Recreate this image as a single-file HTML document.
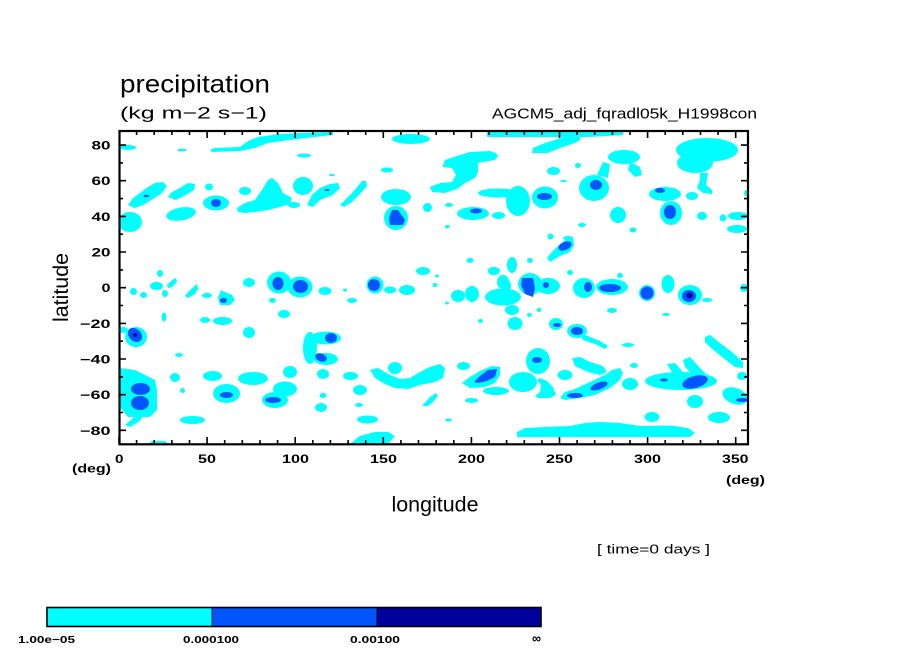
<!DOCTYPE html>
<html><head><meta charset="utf-8"><style>
html,body{margin:0;padding:0;background:#fff;}
svg{display:block;}
text{font-family:"Liberation Sans",sans-serif;fill:#000;}
.tl{font-weight:bold;font-size:12px;}
</style></head><body>
<svg width="904" height="654" viewBox="0 0 904 654" xmlns="http://www.w3.org/2000/svg">
<rect width="904" height="654" fill="#fff"/>
<defs><clipPath id="pc"><rect x="119" y="131" width="629" height="313"/></clipPath></defs>
<g clip-path="url(#pc)">
<g fill="#00ffff">
<polygon points="210,150 215,148 240,147 248,141 258,137 280,134 300,133 333,132 333,135 315,137 290,140 268,143 255,148 240,151 212,152"/>
<ellipse cx="411" cy="139" rx="19" ry="5"/>
<polygon points="487,131 623,131 623,135 590,137 487,137"/>
<polygon points="532,153 533,148 545,143 555,140 563,137 580,134 580,140 575,143 560,148 548,153"/>
<ellipse cx="488" cy="155" rx="9" ry="3.5"/>
<ellipse cx="128" cy="147.5" rx="8" ry="2.5"/>
<ellipse cx="182" cy="150" rx="5" ry="1.2"/>
<ellipse cx="304" cy="155.5" rx="7" ry="2"/>
<ellipse cx="707" cy="150" rx="31" ry="12"/>
<ellipse cx="695" cy="163" rx="18" ry="10"/>
<polygon points="700,173 708,173 706,185 712,190 712,194 703,193 697,188 700,180"/>
<ellipse cx="692" cy="196" rx="6" ry="4"/>
<ellipse cx="624" cy="157" rx="16" ry="7"/>
<polygon points="630,162 640,167 642,175 635,177 628,170"/>
<ellipse cx="553.5" cy="171" rx="6.5" ry="4"/>
<ellipse cx="563.5" cy="181" rx="3.5" ry="1"/>
<ellipse cx="578" cy="165.5" rx="3" ry="2.5"/>
<ellipse cx="594" cy="188" rx="15" ry="13"/>
<polygon points="597,175 603,162 610,164 608,178"/>
<ellipse cx="498" cy="193" rx="20" ry="4.5"/>
<ellipse cx="518" cy="201" rx="12" ry="15"/>
<ellipse cx="545" cy="197.5" rx="13" ry="11"/>
<ellipse cx="473" cy="213.5" rx="16" ry="6.5"/>
<ellipse cx="498.5" cy="215.5" rx="6.5" ry="3.5"/>
<ellipse cx="618" cy="215" rx="8" ry="8"/>
<ellipse cx="582" cy="225" rx="4" ry="2"/>
<ellipse cx="633" cy="230" rx="3.5" ry="2.5"/>
<ellipse cx="550.5" cy="236.5" rx="3" ry="3"/>
<ellipse cx="568" cy="238" rx="5" ry="2"/>
<ellipse cx="447" cy="227" rx="2" ry="1.5"/>
<ellipse cx="665" cy="194" rx="16" ry="7"/>
<ellipse cx="671" cy="213" rx="11" ry="12"/>
<ellipse cx="702" cy="216" rx="5" ry="4"/>
<ellipse cx="723" cy="218" rx="3.5" ry="3.5"/>
<ellipse cx="738" cy="216" rx="10" ry="4"/>
<ellipse cx="737" cy="229" rx="10" ry="4"/>
<ellipse cx="746" cy="193" rx="2" ry="3"/>
<polygon points="547,258 552,252 560,244 567,239 573,237 574,245 570,252 560,256 550,262"/>
<ellipse cx="530" cy="260.5" rx="3" ry="2.5"/>
<ellipse cx="512" cy="265" rx="5" ry="8"/>
<ellipse cx="494" cy="271" rx="6" ry="4"/>
<ellipse cx="503" cy="282" rx="6" ry="7"/>
<ellipse cx="530" cy="284" rx="12" ry="11"/>
<ellipse cx="548" cy="286" rx="12" ry="8"/>
<ellipse cx="570" cy="272.5" rx="3" ry="2.5"/>
<ellipse cx="584" cy="288" rx="11" ry="10"/>
<ellipse cx="612" cy="287" rx="16" ry="8"/>
<ellipse cx="620" cy="275.5" rx="3" ry="2.5"/>
<circle cx="647" cy="293" r="8"/>
<ellipse cx="668" cy="284" rx="6.5" ry="9"/>
<ellipse cx="690" cy="295" rx="12" ry="10"/>
<ellipse cx="707" cy="300" rx="5" ry="2"/>
<ellipse cx="744" cy="288" rx="4" ry="4"/>
<ellipse cx="612" cy="310.5" rx="5" ry="2.5"/>
<ellipse cx="666" cy="314.5" rx="4" ry="1.5"/>
<ellipse cx="539" cy="310" rx="2.5" ry="2"/>
<ellipse cx="556" cy="324" rx="7" ry="6"/>
<ellipse cx="577" cy="331" rx="10" ry="7"/>
<polygon points="580,333 590,337 600,341 608,346 605,349 595,344 583,340"/>
<ellipse cx="628" cy="345" rx="6" ry="2"/>
<polygon points="705,337 710,335 720,343 732,352 743,362 743,368 735,367 722,357 710,347 705,342"/>
<ellipse cx="538" cy="361" rx="12" ry="13"/>
<polygon points="572,358 580,357 590,362 603,366 607,372 600,375 588,372 575,366"/>
<ellipse cx="634" cy="365.5" rx="4" ry="2.5"/>
<ellipse cx="565" cy="375" rx="7.5" ry="5"/>
<polygon points="540,378 547,381 553,387 556,395 550,398 538,398 535,396 540,392 541,385 537,380"/>
<polygon points="560,398 565,392 575,389 590,382 605,375 612,370 620,368 623,373 620,380 610,388 595,395 580,398 565,400"/>
<ellipse cx="630" cy="384" rx="8" ry="6"/>
<ellipse cx="681" cy="381" rx="36" ry="9"/>
<polygon points="683,360 690,357 700,368 707,375 700,378 690,372 685,367"/>
<polygon points="667,364 675,363 683,372 683,377 675,377"/>
<ellipse cx="742" cy="376" rx="5" ry="4"/>
<ellipse cx="735" cy="396" rx="13" ry="8" transform="rotate(20 735 396)"/>
<ellipse cx="695" cy="401.5" rx="8" ry="6.5"/>
<ellipse cx="652" cy="417" rx="7.5" ry="5"/>
<ellipse cx="719" cy="417.5" rx="11" ry="5.5"/>
<polygon points="517,432 525,428 545,427 570,426 585,423 600,422 620,423 640,426 670,425.5 688,428 695,433 690,437 640,437 600,437 560,437 530,437 517,437"/>
<ellipse cx="375" cy="285" rx="8.5" ry="8.5"/>
<ellipse cx="325" cy="291" rx="6.5" ry="4"/>
<ellipse cx="390" cy="290" rx="6" ry="3.5"/>
<ellipse cx="407" cy="290" rx="8" ry="5"/>
<ellipse cx="435" cy="285" rx="2.5" ry="2"/>
<ellipse cx="352" cy="300.5" rx="5" ry="2.5"/>
<ellipse cx="345" cy="290" rx="2" ry="1.5"/>
<ellipse cx="458" cy="296" rx="7" ry="6"/>
<ellipse cx="472" cy="294" rx="7" ry="8"/>
<ellipse cx="503" cy="297" rx="18" ry="8.5"/>
<ellipse cx="506" cy="286" rx="5" ry="7"/>
<ellipse cx="423" cy="271" rx="7" ry="4"/>
<ellipse cx="470" cy="260.5" rx="3.5" ry="2.5"/>
<ellipse cx="493" cy="271" rx="5" ry="4"/>
<ellipse cx="437" cy="276" rx="2" ry="1.5"/>
<ellipse cx="447" cy="303" rx="2" ry="1.5"/>
<ellipse cx="512" cy="310" rx="7" ry="5"/>
<ellipse cx="515" cy="323.5" rx="7.5" ry="6.5"/>
<ellipse cx="480.5" cy="321" rx="2.5" ry="2"/>
<ellipse cx="529.5" cy="315" rx="2.5" ry="2"/>
<ellipse cx="326" cy="338" rx="15" ry="6.5"/>
<ellipse cx="310" cy="348" rx="7" ry="16"/>
<ellipse cx="326" cy="359" rx="12" ry="6"/>
<ellipse cx="323" cy="374" rx="6" ry="5"/>
<ellipse cx="350.5" cy="376" rx="7.5" ry="4"/>
<ellipse cx="395" cy="368" rx="7" ry="6"/>
<polygon points="370,370 378,368 390,375 400,379 410,378 420,372 430,367 440,364 445,368 443,378 435,382 420,385 408,389 395,388 385,384 375,378"/>
<ellipse cx="463.5" cy="366" rx="6.5" ry="4"/>
<polygon points="462,383 470,377 480,371 492,366 500,367 500,375 495,383 485,387 470,388"/>
<ellipse cx="496" cy="391" rx="13" ry="4"/>
<ellipse cx="523" cy="382" rx="14" ry="10"/>
<ellipse cx="360" cy="390" rx="7" ry="5"/>
<ellipse cx="323" cy="395.5" rx="3.5" ry="2.5"/>
<ellipse cx="321" cy="407.5" rx="6" ry="4.5"/>
<ellipse cx="359" cy="405" rx="4" ry="2"/>
<polygon points="422,406 430,397 436,393 438,396 432,403 428,406"/>
<ellipse cx="471.5" cy="400.5" rx="6.5" ry="2.5"/>
<ellipse cx="367.5" cy="419.5" rx="10.5" ry="4"/>
<ellipse cx="448.5" cy="420" rx="3.5" ry="1.5"/>
<polygon points="350,444 360,436 375,432 388,432 395,436 388,444"/>
<polygon points="340,205 345,200 352,193 358,186 362,181 366,181 367,186 360,194 352,202 344,207"/>
<polygon points="307,205 312,195 320,188 330,184 338,183 340,188 333,195 320,200 313,207"/>
<ellipse cx="396" cy="197" rx="15" ry="8"/>
<ellipse cx="396" cy="218" rx="12" ry="12"/>
<ellipse cx="387" cy="170" rx="6" ry="2.5"/>
<ellipse cx="332" cy="175" rx="3" ry="1"/>
<ellipse cx="427.5" cy="207.5" rx="4.5" ry="4.5"/>
<ellipse cx="449" cy="205" rx="4" ry="2"/>
<ellipse cx="447.5" cy="226.5" rx="2.5" ry="1.5"/>
<polygon points="443,165 445,160 460,155 470,152 490,151 498,156 495,160 478,163 478,172 475,178 465,183 457,189 445,193 432,192 430,187 440,183 452,182 456,175 452,168 443,167"/>
<polygon points="128,205 133,198 140,193 148,187 155,183 163,182 167,186 162,193 153,199 143,205 135,208"/>
<ellipse cx="130" cy="222" rx="12" ry="10"/>
<polygon points="168,197 172,192 180,188 188,183 195,184 194,190 186,195 176,200"/>
<ellipse cx="181" cy="214" rx="15" ry="6.5" transform="rotate(-10 181 214)"/>
<ellipse cx="209" cy="187" rx="4" ry="3.5"/>
<ellipse cx="216" cy="203" rx="13" ry="7.5"/>
<ellipse cx="245" cy="191" rx="6" ry="4"/>
<polygon points="237,208 245,203 255,200 262,190 268,180 272,178 278,183 283,193 292,198 290,204 280,207 268,210 255,212 245,213 238,212"/>
<ellipse cx="294" cy="205" rx="6" ry="3"/>
<ellipse cx="303" cy="186" rx="10" ry="9"/>
<ellipse cx="331" cy="175" rx="2" ry="1"/>
<ellipse cx="133.5" cy="291.5" rx="3.5" ry="3.5"/>
<ellipse cx="143.5" cy="295" rx="3.5" ry="3"/>
<ellipse cx="156.5" cy="286" rx="6.5" ry="4"/>
<ellipse cx="160" cy="273.5" rx="3" ry="3.5"/>
<ellipse cx="165" cy="293.5" rx="3" ry="3.5"/>
<polygon points="167,285 172,280 176,278 177,282 172,287 168,288"/>
<polygon points="185,296 190,290 197,284 198,289 195,294 188,298"/>
<ellipse cx="207" cy="295.5" rx="5" ry="2.5"/>
<polygon points="221,290 225,292 232,295 235,300 230,305 220,305 218,298"/>
<ellipse cx="249" cy="282.5" rx="6" ry="4.5"/>
<ellipse cx="279" cy="282.5" rx="12" ry="11"/>
<ellipse cx="300" cy="287" rx="12.5" ry="10.5"/>
<ellipse cx="272.5" cy="300.5" rx="3.5" ry="2.5"/>
<ellipse cx="284" cy="314" rx="6" ry="4"/>
<ellipse cx="164" cy="317" rx="2.5" ry="4.5"/>
<ellipse cx="205" cy="320" rx="5" ry="3"/>
<ellipse cx="222.5" cy="321" rx="9.5" ry="4"/>
<ellipse cx="249" cy="332.5" rx="6" ry="5.5"/>
<ellipse cx="136" cy="337" rx="11" ry="10"/>
<ellipse cx="123" cy="330" rx="5" ry="3"/>
<ellipse cx="179" cy="355" rx="4" ry="2"/>
<polygon points="119,368 135,370 145,375 155,380 157,390 157,410 150,417 128,417 122,410 119,405"/>
<polygon points="125,425 133,418 143,415 140,421 130,427"/>
<ellipse cx="175" cy="377.5" rx="5" ry="4.5"/>
<ellipse cx="212.5" cy="376" rx="9.5" ry="5"/>
<ellipse cx="253" cy="378.5" rx="15" ry="6.5"/>
<ellipse cx="290" cy="372" rx="7" ry="6"/>
<ellipse cx="182.5" cy="390.5" rx="2.5" ry="2.5"/>
<ellipse cx="226.5" cy="393.5" rx="13.5" ry="9.5"/>
<ellipse cx="275" cy="400" rx="13" ry="8"/>
<ellipse cx="285" cy="389" rx="12" ry="7.5"/>
<ellipse cx="192.5" cy="420" rx="12.5" ry="4"/>
<polygon points="148,444 152,441 165,441 168,444"/>
</g>
<g fill="#0055ff">
<ellipse cx="146.5" cy="196" rx="3" ry="1.2"/>
<ellipse cx="327" cy="190" rx="2.5" ry="1"/>
<polygon points="392,210 398,210 405,220 403,225 390,225 389,218"/>
<ellipse cx="476" cy="211" rx="6" ry="2.5"/>
<ellipse cx="544.5" cy="196.5" rx="7.5" ry="3.5"/>
<ellipse cx="596" cy="185" rx="6" ry="5"/>
<ellipse cx="660" cy="190.5" rx="5" ry="2.5"/>
<ellipse cx="670" cy="212" rx="6" ry="7"/>
<ellipse cx="565" cy="246" rx="7" ry="4" transform="rotate(-25 565 246)"/>
<polygon points="522,278 533,278 535,288 533,297 525,294 521,285"/>
<ellipse cx="546" cy="285" rx="3" ry="3"/>
<ellipse cx="588" cy="287" rx="4" ry="5"/>
<ellipse cx="610" cy="288" rx="11" ry="4"/>
<circle cx="647" cy="293" r="6.5"/>
<ellipse cx="689" cy="296" rx="7" ry="6"/>
<ellipse cx="557" cy="325" rx="4" ry="2"/>
<ellipse cx="577" cy="331" rx="6" ry="4"/>
<ellipse cx="537" cy="360" rx="5" ry="3"/>
<ellipse cx="599" cy="386" rx="9" ry="3.5" transform="rotate(-20 599 386)"/>
<ellipse cx="575" cy="395.5" rx="8" ry="2.5"/>
<ellipse cx="695" cy="382" rx="13" ry="6" transform="rotate(-15 695 382)"/>
<ellipse cx="664" cy="380" rx="4" ry="1.5"/>
<ellipse cx="742" cy="400" rx="6" ry="2"/>
<ellipse cx="374" cy="285" rx="6" ry="6"/>
<ellipse cx="331" cy="338" rx="6" ry="5"/>
<ellipse cx="321" cy="357.5" rx="6" ry="4" transform="rotate(20 321 357.5)"/>
<polygon points="474,382 480,376 488,370 497,369 495,377 487,381 478,383"/>
<ellipse cx="216" cy="203" rx="5" ry="4"/>
<ellipse cx="223.5" cy="300.5" rx="3.5" ry="2.5"/>
<ellipse cx="278" cy="283.5" rx="5.5" ry="6.5"/>
<ellipse cx="300.5" cy="286.5" rx="7.5" ry="6.5"/>
<ellipse cx="135" cy="335" rx="8" ry="6" transform="rotate(45 135 335)"/>
<ellipse cx="140.5" cy="389" rx="9.5" ry="6"/>
<ellipse cx="140" cy="403" rx="9" ry="7"/>
<ellipse cx="226.5" cy="395" rx="6.5" ry="3"/>
<ellipse cx="273" cy="400" rx="8" ry="3"/>
</g>
<g fill="#00009c">
<ellipse cx="135" cy="335" rx="2" ry="2"/>
<ellipse cx="689.5" cy="295.5" rx="3" ry="3"/>
</g>
</g>
<!-- frame -->
<rect x="119.5" y="131" width="628.5" height="313.3" fill="none" stroke="#000" stroke-width="2.2"/>
<!-- ticks -->
<path stroke="#000" stroke-width="1.6" fill="none" d="
M119 444v-7M207.1 444v-7M295.2 444v-7M383.3 444v-7M471.4 444v-7M559.5 444v-7M647.6 444v-7M735.7 444v-7
M136.6 444v-4M154.2 444v-4M171.9 444v-4M189.5 444v-4M224.7 444v-4M242.3 444v-4M260 444v-4M277.6 444v-4M312.8 444v-4M330.4 444v-4M348.1 444v-4M365.7 444v-4M400.9 444v-4M418.5 444v-4M436.2 444v-4M453.8 444v-4M489 444v-4M506.6 444v-4M524.3 444v-4M541.9 444v-4M577.1 444v-4M594.7 444v-4M612.4 444v-4M630 444v-4M665.2 444v-4M682.8 444v-4M700.5 444v-4M718.1 444v-4
M207.1 131v7M295.2 131v7M383.3 131v7M471.4 131v7M559.5 131v7M647.6 131v7M735.7 131v7
M136.6 131v4M154.2 131v4M171.9 131v4M189.5 131v4M224.7 131v4M242.3 131v4M260 131v4M277.6 131v4M312.8 131v4M330.4 131v4M348.1 131v4M365.7 131v4M400.9 131v4M418.5 131v4M436.2 131v4M453.8 131v4M489 131v4M506.6 131v4M524.3 131v4M541.9 131v4M577.1 131v4M594.7 131v4M612.4 131v4M630 131v4M665.2 131v4M682.8 131v4M700.5 131v4M718.1 131v4
M119 145.1h7M119 180.7h7M119 216.4h7M119 252h7M119 287.7h7M119 323.4h7M119 359h7M119 394.7h7M119 430.3h7
M119 162.9h4M119 198.6h4M119 234.2h4M119 269.9h4M119 305.5h4M119 341.2h4M119 376.9h4M119 412.5h4
M748 145.1h-7M748 180.7h-7M748 216.4h-7M748 252h-7M748 287.7h-7M748 323.4h-7M748 359h-7M748 394.7h-7M748 430.3h-7
M748 162.9h-4M748 198.6h-4M748 234.2h-4M748 269.9h-4M748 305.5h-4M748 341.2h-4M748 376.9h-4M748 412.5h-4
"/>
<!-- y tick labels -->
<g class="tl" font-size="12.5">
<text x="91.5" y="149.6" textLength="19" lengthAdjust="spacingAndGlyphs">80</text>
<text x="91.5" y="185.2" textLength="19" lengthAdjust="spacingAndGlyphs">60</text>
<text x="91.5" y="220.9" textLength="19" lengthAdjust="spacingAndGlyphs">40</text>
<text x="91.5" y="256.5" textLength="19" lengthAdjust="spacingAndGlyphs">20</text>
<text x="101.5" y="292.2" textLength="9" lengthAdjust="spacingAndGlyphs">0</text>
<text x="80" y="327.9" textLength="30.5" lengthAdjust="spacingAndGlyphs">−20</text>
<text x="80" y="363.5" textLength="30.5" lengthAdjust="spacingAndGlyphs">−40</text>
<text x="80" y="399.2" textLength="30.5" lengthAdjust="spacingAndGlyphs">−60</text>
<text x="80" y="434.8" textLength="30.5" lengthAdjust="spacingAndGlyphs">−80</text>
</g>
<!-- x tick labels -->
<g class="tl" font-size="12.5">
<text x="115" y="463" textLength="8.5" lengthAdjust="spacingAndGlyphs">0</text>
<text x="198" y="463" textLength="18" lengthAdjust="spacingAndGlyphs">50</text>
<text x="282" y="463" textLength="27" lengthAdjust="spacingAndGlyphs">100</text>
<text x="370" y="463" textLength="27" lengthAdjust="spacingAndGlyphs">150</text>
<text x="458" y="463" textLength="27" lengthAdjust="spacingAndGlyphs">200</text>
<text x="546" y="463" textLength="27" lengthAdjust="spacingAndGlyphs">250</text>
<text x="634" y="463" textLength="27" lengthAdjust="spacingAndGlyphs">300</text>
<text x="722" y="463" textLength="26.5" lengthAdjust="spacingAndGlyphs">350</text>
</g>
<text class="tl" font-size="13" x="72" y="472.5" textLength="39" lengthAdjust="spacingAndGlyphs">(deg)</text>
<text class="tl" font-size="14" x="726" y="484" textLength="39" lengthAdjust="spacingAndGlyphs">(deg)</text>
<!-- titles -->
<text x="120" y="92.5" font-size="25" textLength="150" lengthAdjust="spacingAndGlyphs">precipitation</text>
<text x="120" y="118.5" font-size="16.5" textLength="147" lengthAdjust="spacingAndGlyphs">(kg m−2 s−1)</text>
<text x="492" y="118.5" font-size="15" textLength="265" lengthAdjust="spacingAndGlyphs">AGCM5_adj_fqradl05k_H1998con</text>
<text x="391.5" y="511.5" font-size="21" textLength="87" lengthAdjust="spacingAndGlyphs">longitude</text>
<text transform="translate(68,322) rotate(-90)" x="0" y="0" font-size="21" textLength="69" lengthAdjust="spacingAndGlyphs">latitude</text>
<text x="597" y="553.5" font-size="13" textLength="113" lengthAdjust="spacingAndGlyphs">[ time=0 days ]</text>
<!-- colorbar -->
<rect x="47" y="607.5" width="165" height="19" fill="#00ffff"/>
<rect x="212" y="607.5" width="165" height="19" fill="#0055ff"/>
<rect x="377" y="607.5" width="164" height="19" fill="#00009c"/>
<rect x="47" y="607.5" width="494" height="19" fill="none" stroke="#000" stroke-width="1.6"/>
<path d="M212 607.5v19M377 607.5v19" stroke="#000" stroke-width="0.8"/>
<g font-weight="bold" font-size="10.5">
<text x="18" y="643" textLength="57" lengthAdjust="spacingAndGlyphs">1.00e−05</text>
<text x="183" y="643" textLength="56" lengthAdjust="spacingAndGlyphs">0.000100</text>
<text x="350" y="643" textLength="50" lengthAdjust="spacingAndGlyphs">0.00100</text>
<text x="532" y="643" font-size="14" textLength="9" lengthAdjust="spacingAndGlyphs">∞</text>
</g>
</svg>
</body></html>
